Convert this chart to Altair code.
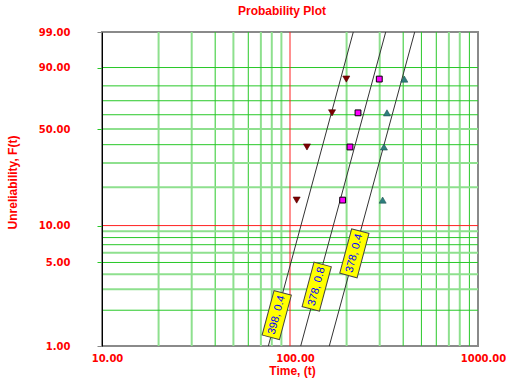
import altair as alt
import numpy as np
import pandas as pd

# ---------------- data ----------------
ranks = [15.91, 38.64, 61.36, 84.09]            # unreliability, %
times_a = [108.5, 123.1, 167.3, 199.3]          # dark red triangles
times_b = [190.6, 208.5, 230.0, 298.5]          # magenta squares
times_c = [311.0, 316.0, 328.0, 405.5]          # teal triangles

line_ids = ["L1", "L2", "L3"]
line_t_low = [76.7, 114.0, 161.8]               # time where line meets F = 1 %
line_t_high = [217.1, 322.9, 460.6]             # time where line meets F = 99 %
line_F_low = 1.0
line_F_high = 99.0

label_texts = ["398, 0.4", "378, 0.8", "378, 0.4"]
label_t = [85.0, 138.7, 220.0]
label_F = [1.82, 3.15, 5.95]

x_ticks = [10, 100, 1000]
y_ticks = [1, 5, 10, 50, 90, 99]
x_grid_light = [20, 30, 50, 70, 80, 90, 200, 300, 700, 800]
x_grid_dark = [40, 60, 400, 500, 600, 900]
y_grid_light = [3, 4, 6, 9, 20, 30, 50]
y_grid_dark = [2, 5, 7, 8, 40, 60, 70, 80, 90]
x_red = [100]
y_red = [10]

# ---------------- Weibull probability paper ----------------
def wb(f):
    return float(np.log(-np.log(1 - f / 100.0)))

W_EXPR = "log(-log(1 - datum.F / 100))"
y_domain = [wb(1), wb(99)]
y_tick_w = [wb(f) for f in y_ticks]

RED = "#ff0000"
LIGHT = "#8ee08e"
DARK = "#28c828"
xscale = alt.Scale(type="log", domain=[10, 1000])
yscale = alt.Scale(domain=y_domain, nice=False, zero=False)

xaxis = alt.Axis(
    values=x_ticks, format=".2f", title="Time, (t)", grid=False, domain=False,
    ticks=False, labelPadding=7, labelOffset=5, labelFlush=False, labelOverlap=False,
    labelColor=RED, labelFont="DejaVu Sans", labelFontWeight="bold", labelFontSize=10,
    titleColor=RED, titleFont="Liberation Sans", titleFontSize=12, titleFontWeight="bold",
    titleX=190, titleY=24, titleAlign="center", titleBaseline="middle", zindex=1,
)
yaxis = alt.Axis(
    values=y_tick_w, labelExpr="format(100*(1-exp(-exp(datum.value))), '.2f')",
    title="Unreliability, F(t)", grid=False, domain=True, domainColor="black",
    domainWidth=1, ticks=True, tickSize=5,
    tickColor={"condition": {"test": "datum.value > 1.5 || datum.value < -4.5",
                             "value": "#888888"}, "value": DARK},
    labelPadding=27, labelFlush=False, labelOverlap=False,
    labelColor=RED, labelFont="DejaVu Sans", labelFontWeight="bold", labelFontSize=10,
    titleColor=RED, titleFont="Liberation Sans", titleFontSize=12, titleFontWeight="bold",
    titleAngle=270, titleX=-90, titleY=150, titleAlign="center", titleBaseline="middle",
    zindex=1,
)


def X():
    return alt.X("t:Q", scale=xscale, axis=xaxis)


def Y():
    return alt.Y("w:Q", scale=yscale, axis=yaxis)


# ---------------- tables ----------------
vgl = pd.DataFrame({"t": x_grid_light})
vgd = pd.DataFrame({"t": x_grid_dark})
vgr = pd.DataFrame({"t": x_red})
hgl = pd.DataFrame({"F": y_grid_light})
hgd = pd.DataFrame({"F": y_grid_dark})
hgr = pd.DataFrame({"F": y_red})

pts_a = pd.DataFrame({"t": times_a, "F": ranks})
pts_b = pd.DataFrame({"t": times_b, "F": ranks})
pts_c = pd.DataFrame({"t": times_c, "F": ranks})

lines = pd.DataFrame({
    "line": line_ids + line_ids,
    "t": line_t_low + line_t_high,
    "F": [line_F_low] * 3 + [line_F_high] * 3,
})
labels = pd.DataFrame({"t": label_t, "F": label_F, "txt": label_texts})

# ---------------- layers ----------------
v_light = alt.Chart(vgl).mark_rule(color=LIGHT, strokeWidth=2).encode(x=X())
v_dark = alt.Chart(vgd).mark_rule(color=DARK, strokeWidth=1).encode(x=X())
h_light = alt.Chart(hgl).transform_calculate(w=W_EXPR).mark_rule(
    color=LIGHT, strokeWidth=2).encode(y=Y())
h_dark = alt.Chart(hgd).transform_calculate(w=W_EXPR).mark_rule(
    color=DARK, strokeWidth=1).encode(y=Y())
v_red = alt.Chart(vgr).mark_rule(color="#ff2020", strokeWidth=1).encode(x=X())
h_red = alt.Chart(hgr).transform_calculate(w=W_EXPR).mark_rule(
    color="#ff2020", strokeWidth=1).encode(y=Y())

fit = alt.Chart(lines).transform_calculate(w=W_EXPR).mark_line(
    color="#333333", strokeWidth=1).encode(x=X(), y=Y(), detail="line:N")

p_a = alt.Chart(pts_a).transform_calculate(w=W_EXPR).mark_point(
    shape="triangle-down", filled=True, fill="#800000", stroke="#4a0000",
    strokeWidth=0.6, size=50, opacity=1).encode(x=X(), y=Y())
p_b = alt.Chart(pts_b).transform_calculate(w=W_EXPR).mark_point(
    shape="square", filled=True, fill="#ff00ff", stroke="#000000",
    strokeWidth=1, size=34, opacity=1).encode(x=X(), y=Y())
p_c = alt.Chart(pts_c).transform_calculate(w=W_EXPR).mark_point(
    shape="triangle-up", filled=True, fill="#2f7f7f", stroke="#1d5050",
    strokeWidth=0.6, size=50, opacity=1).encode(x=X(), y=Y())

boxes = alt.Chart(labels).transform_calculate(w=W_EXPR).mark_point(
    shape="M-1,-0.39L1,-0.39L1,0.39L-1,0.39Z", filled=True, fill="#ffff00",
    stroke="#444444", strokeWidth=1, size=2116, angle=285, opacity=1,
).encode(x=X(), y=Y())
texts = alt.Chart(labels).transform_calculate(w=W_EXPR).mark_text(
    angle=285, font="Liberation Sans", fontSize=11, color="#0000ff",
    align="center", baseline="middle",
).encode(x=X(), y=Y(), text="txt:N")

chart = alt.layer(
    v_light, v_dark, h_light, h_dark, v_red, h_red, fit, p_a, p_b, p_c, boxes, texts
).properties(
    width=376, height=314,
    title=alt.TitleParams(
        "Probability Plot", color=RED, font="Liberation Sans", fontSize=12,
        fontWeight="bold", anchor="middle", frame="group", dx=-8, offset=9,
    ),
    autosize=alt.AutoSizeParams(type="none"),
    padding={"left": 102, "top": 32, "right": 32, "bottom": 32},
    background="white",
).configure_view(stroke="#8a8a8a", strokeWidth=2)

chart.save("out.html", embed_options={"renderer": "svg", "actions": False})
